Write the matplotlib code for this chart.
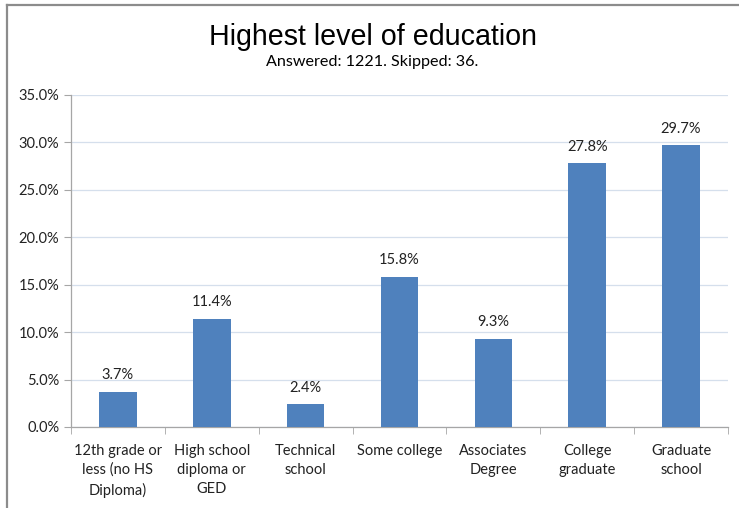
import matplotlib
matplotlib.use("Agg")
import matplotlib.pyplot as plt
from matplotlib.lines import Line2D
from matplotlib.ticker import FixedLocator, PercentFormatter
import numpy as np

categories = [
    "12th grade or\nless (no HS\nDiploma)",
    "High school\ndiploma or\nGED",
    "Technical\nschool",
    "Some college",
    "Associates\nDegree",
    "College\ngraduate",
    "Graduate\nschool",
]
values = [3.7, 11.4, 2.4, 15.8, 9.3, 27.8, 29.7]
y_ticks = [0, 5, 10, 15, 20, 25, 30, 35]

W, H = 739, 508
fig = plt.figure(figsize=(W / 100, H / 100), dpi=100)
fig.patch.set_facecolor("white")

label_font = "Lato"
ax = fig.add_axes([71 / W, 1 - 427 / H, (728 - 71) / W, (427 - 95) / H])

x = np.arange(len(categories))
ax.bar(x, values, width=0.4, color="#4f81bd", zorder=3)
ax.set_xlim(-0.5, len(categories) - 0.5)
ax.set_ylim(0, 35)

ax.yaxis.set_major_locator(FixedLocator(y_ticks))
ax.yaxis.set_major_formatter(PercentFormatter(decimals=1))
ax.grid(axis="y", color="#d5dfec", linewidth=0.9, zorder=0)
ax.set_axisbelow(True)

for s in ["top", "right"]:
    ax.spines[s].set_visible(False)
for s in ["left", "bottom"]:
    ax.spines[s].set_color("#a6a6a6")
    ax.spines[s].set_linewidth(0.9)

ax.set_xticks(x)
ax.set_xticklabels(categories, fontsize=10.5, family=label_font, color="#222222",
                   linespacing=1.45)
ax.tick_params(axis="x", length=0, pad=12)
ax.set_xticks(np.arange(len(categories) + 1) - 0.5, minor=True)
ax.tick_params(axis="x", which="minor", length=5, color="#a6a6a6", direction="out")
ax.tick_params(axis="y", length=5, color="#a6a6a6", labelsize=10.5, labelcolor="#222222")
for lbl in ax.get_yticklabels():
    lbl.set_family(label_font)

for xi, v in zip(x, values):
    ax.annotate(f"{v:.1f}%", (xi, v), xytext=(0, 7), textcoords="offset points",
                ha="center", va="bottom", fontsize=10.5, family=label_font,
                color="#222222")

fig.text(0.5 + 6 / W / 2, 1 - 37 / H, "Highest level of education", ha="center",
         va="center", fontsize=20.6, family="Liberation Sans", color="black")
fig.text(0.5 + 6 / W / 2, 1 - 62 / H, "Answered: 1221. Skipped: 36.", ha="center",
         va="center", fontsize=11.6, family=label_font, color="black")

# outer frame along the top and left edges
fig.add_artist(Line2D([6.5 / W, 1], [1 - 5 / H, 1 - 5 / H], transform=fig.transFigure,
                      color="#8c8c8c", linewidth=1.6))
fig.add_artist(Line2D([6.5 / W, 6.5 / W], [1 - 5 / H, 0], transform=fig.transFigure,
                      color="#8c8c8c", linewidth=1.6))

fig.savefig("out.png", dpi=100, facecolor="white")
